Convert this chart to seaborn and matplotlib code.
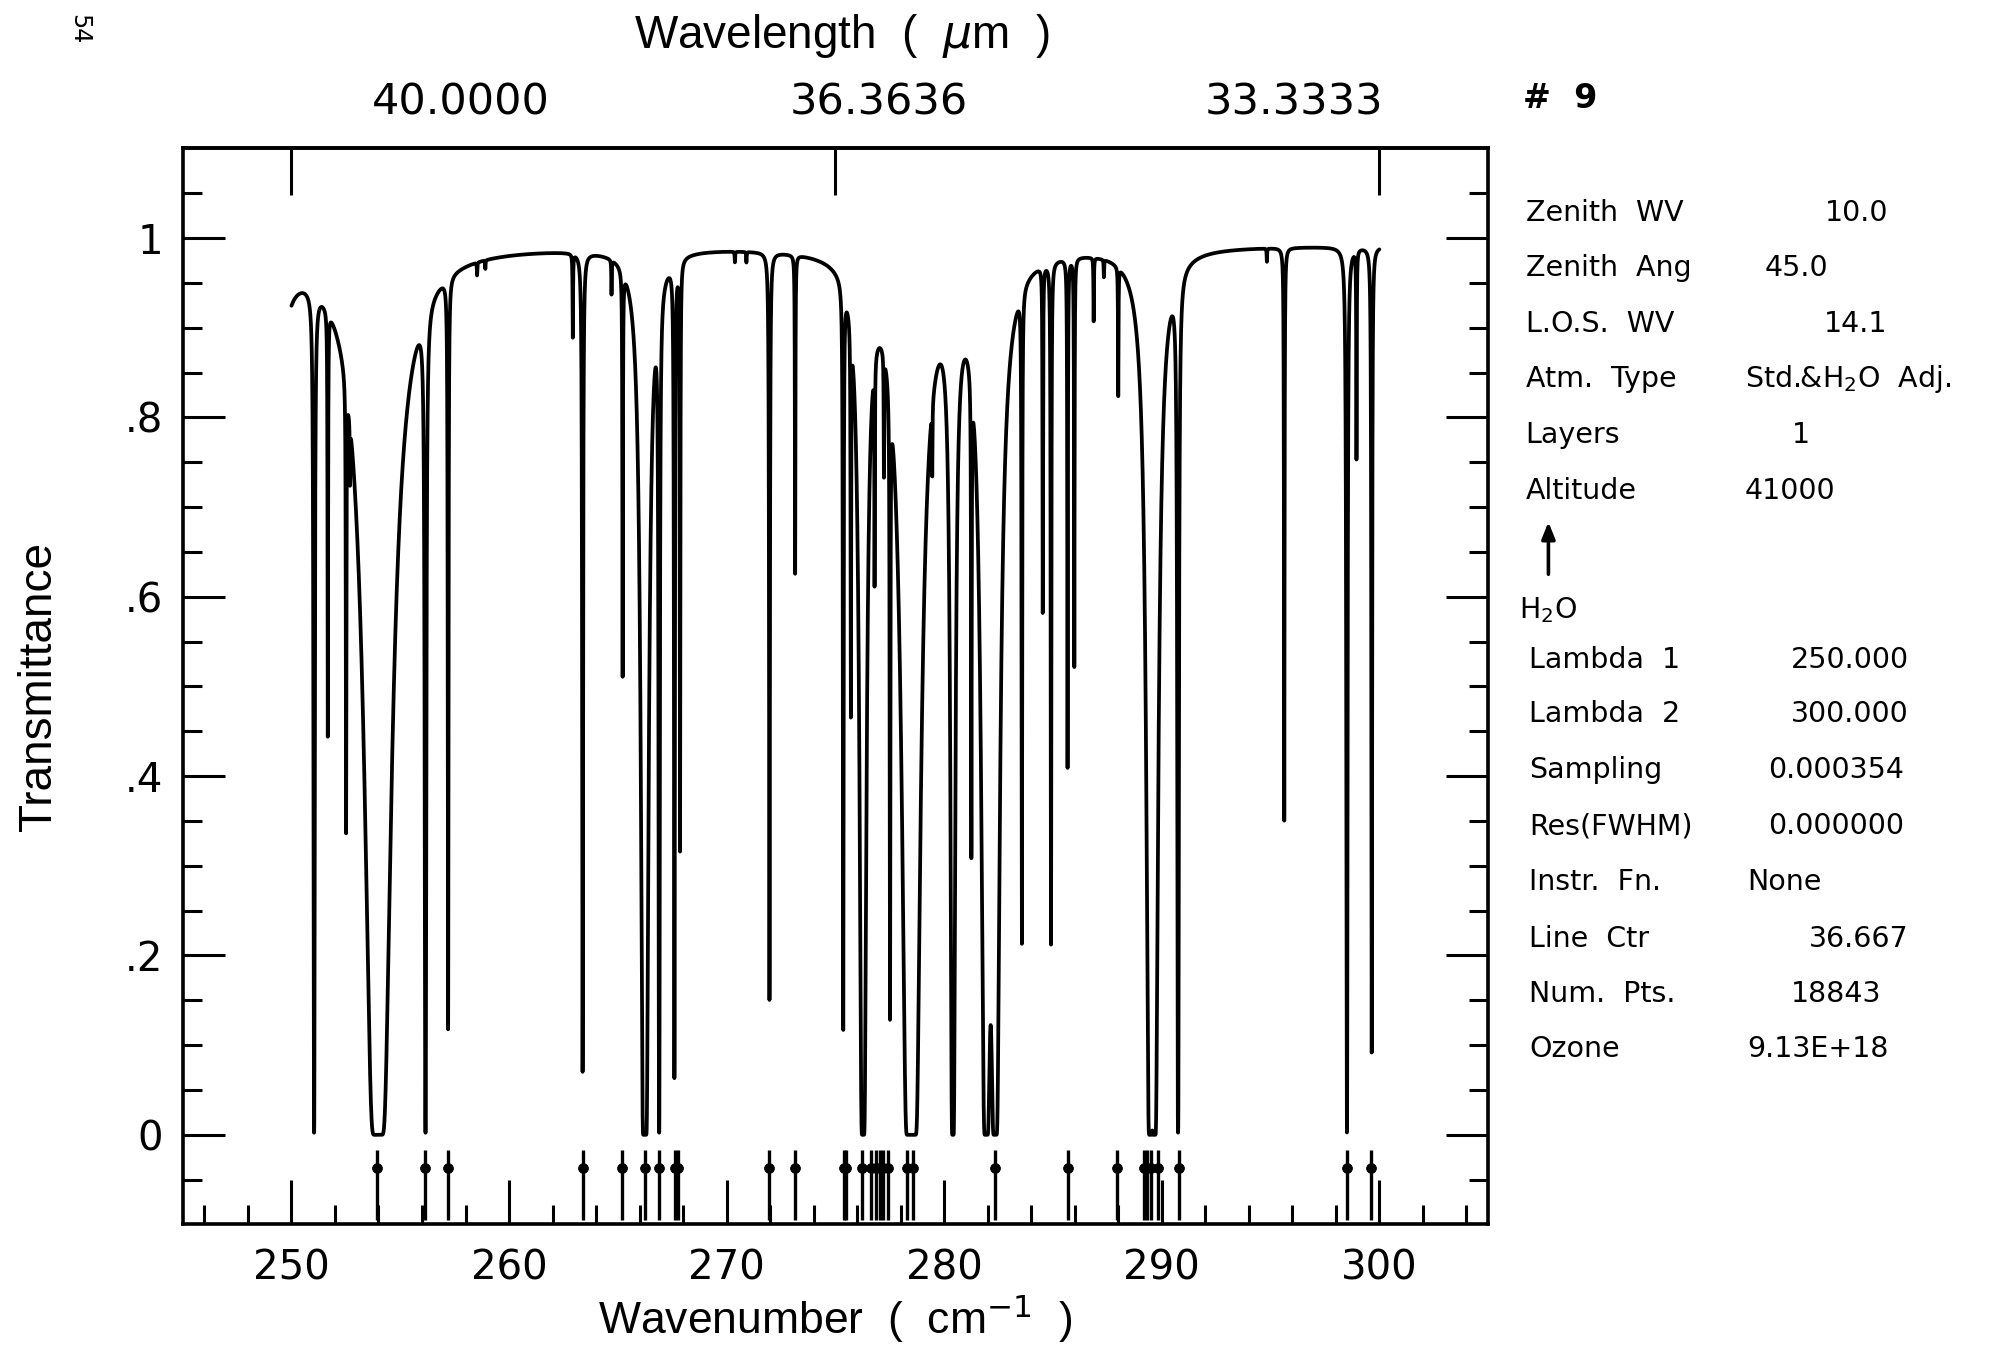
import numpy as np
import pandas as pd
import matplotlib
matplotlib.use('Agg')
import matplotlib.pyplot as plt
import seaborn as sns

# ------------------------------------------------------------
# H2O absorption lines
# centre (cm-1), peak optical depth, half width (cm-1)
# ------------------------------------------------------------
line_center = [248.90, 251.04, 251.67, 252.51, 252.69, 253.98, 256.16, 257.20,
               258.53, 258.91, 262.93, 263.38, 264.71, 265.22, 266.20, 266.27,
               266.90, 267.60, 267.86, 270.38, 270.91, 271.97, 273.15, 275.36,
               275.71, 276.27, 276.80, 277.23, 277.51, 278.38, 278.60, 279.45,
               280.40, 281.25, 281.93, 282.34, 283.57, 284.53, 284.91, 285.67,
               285.98, 286.87, 287.34, 288.00, 289.47, 289.66, 290.75, 294.83,
               295.63, 298.51, 298.95, 299.65]
line_tau = [140.0, 6.0, 0.73, 0.91, 0.09, 900.0, 6.0, 2.10,
            0.015, 0.010, 0.10, 2.64, 0.04, 0.64, 30.0, 37.5,
            6.0, 2.75, 1.13, 0.012, 0.012, 1.88, 0.45, 2.10,
            0.66, 60.0, 0.34, 0.17, 1.86, 190.0, 190.0, 0.10,
            30.0, 1.00, 110.0, 110.0, 1.50, 0.51, 1.54, 0.87,
            0.63, 0.075, 0.02, 0.16, 62.5, 62.5, 6.0, 0.015,
            1.04, 6.0, 0.27, 2.38]
line_hw = [0.02, 0.012, 0.012, 0.012, 0.012, 0.02, 0.015, 0.012,
           0.012, 0.012, 0.012, 0.013, 0.012, 0.012, 0.02, 0.02,
           0.012, 0.012, 0.012, 0.012, 0.012, 0.014, 0.012, 0.012,
           0.012, 0.02, 0.012, 0.012, 0.012, 0.02, 0.02, 0.012,
           0.02, 0.012, 0.02, 0.02, 0.012, 0.012, 0.012, 0.012,
           0.012, 0.012, 0.012, 0.012, 0.02, 0.02, 0.015, 0.012,
           0.012, 0.012, 0.012, 0.012]
continuum_tau = 0.008

# positions of the H2O line markers under the zero line
marker_pos = [253.93, 256.15, 257.20, 263.38, 265.18, 266.25, 266.90, 267.62,
              267.77, 271.97, 273.13, 275.41, 275.50, 276.20, 276.64, 276.88,
              277.04, 277.17, 277.42, 278.30, 278.58, 282.35, 285.70, 287.95,
              289.17, 289.33, 289.50, 289.85, 290.80, 298.50, 299.60]

# top axis: wavelength labels
wl_ticks = [250, 275, 300]
wl_labels = ['40.0000', '36.3636', '33.3333']
wl_label_x = [257.8, 277.0, 296.1]

# run parameters box
info_labels = ['Zenith  WV', 'Zenith  Ang', 'L.O.S.  WV', 'Atm.  Type', 'Layers', 'Altitude']
info_values = ['10.0', '45.0', '14.1', 'Std.&H$_2$O  Adj.', '1', '41000']
info_value_x = [0.9171, 0.8865, 0.9165, 0.8769, 0.9005, 0.8769]
run_labels = ['Lambda  1', 'Lambda  2', 'Sampling', 'Res(FWHM)', 'Instr.  Fn.',
              'Line  Ctr', 'Num.  Pts.', 'Ozone']
run_values = ['250.000', '300.000', '0.000354', '0.000000', 'None',
              '36.667', '18843', '9.13E+18']
run_value_x = [0.8999, 0.8999, 0.8884, 0.8884, 0.8782, 0.9088, 0.8999, 0.8782]

# ------------------------------------------------------------
# build the transmittance curve from the line list
# ------------------------------------------------------------
wn = np.linspace(250.0, 300.0, 18843)
tau = np.full_like(wn, continuum_tau)
for c, t0, g in zip(line_center, line_tau, line_hw):
    tau += t0 * g ** 2 / ((wn - c) ** 2 + g ** 2)
spec = pd.DataFrame({'wavenumber': wn, 'transmittance': np.exp(-tau)})

sns.set_theme(style='ticks')
plt.rcParams['font.family'] = ['DejaVu Sans']
plt.rcParams['axes.linewidth'] = 2.6
plt.rcParams['axes.edgecolor'] = 'black'
plt.rcParams['text.color'] = 'black'
plt.rcParams['axes.labelcolor'] = 'black'
plt.rcParams['xtick.color'] = 'black'
plt.rcParams['ytick.color'] = 'black'

narrow = ['Liberation Sans Narrow', 'DejaVu Sans']
lib = ['Liberation Sans', 'DejaVu Sans']

fig = plt.figure(figsize=(19.9, 13.45), dpi=100)
ax = fig.add_axes([0.0918, 0.0896, 0.656, 0.800])

sns.lineplot(data=spec, x='wavenumber', y='transmittance', ax=ax, color='black',
             lw=2.7, estimator=None, sort=False)

ax.vlines(marker_pos, -0.095, -0.017, color='black', lw=2.4)
sns.scatterplot(x=marker_pos, y=[-0.0375] * len(marker_pos), ax=ax, color='black',
                s=50, edgecolor='black', legend=False, zorder=3)

ax.set_xlim(245, 305)
ax.set_ylim(-0.1, 1.1)

ax.set_xticks(range(250, 301, 10))
ax.set_xticks([v for v in range(246, 305, 2) if v % 10], minor=True)
ax.set_xticklabels([str(v) for v in range(250, 301, 10)], family=narrow, fontsize=29)
ax.set_yticks([0, 0.2, 0.4, 0.6, 0.8, 1.0])
ax.set_yticklabels(['0', '.2', '.4', '.6', '.8', '1'], family=narrow, fontsize=29)
ax.set_yticks([round(v, 2) for v in np.arange(-0.05, 1.1, 0.05)
               if round(v * 20) % 4 != 0], minor=True)
ax.tick_params(which='both', direction='in', right=True, top=False, width=2.2, color='black')
ax.tick_params(which='major', length=30)
ax.tick_params(which='minor', length=14)
ax.tick_params(axis='x', which='major', length=32, pad=17)
ax.tick_params(axis='y', which='major', pad=14)

ax.set_xlabel('Wavenumber  (  cm$^{-1}$  )', family=lib, fontsize=32, labelpad=3)
ax.set_ylabel('Transmittance', family=lib, fontsize=33, labelpad=46)

top = ax.secondary_xaxis('top')
top.set_xticks(wl_ticks)
top.set_xticklabels([])
top.tick_params(direction='in', length=34, width=2.2)
for x, lab in zip(wl_label_x, wl_labels):
    ax.text(x, 1.043 * 1.2 - 0.1, lab, ha='center', va='center', fontsize=31)
ax.text(275.3, 1.105 * 1.2 - 0.1, 'Wavelength  (  $\\mu$m  )', ha='center', va='center',
        family=lib, fontsize=33)

# parameter box
fig.text(0.7653, 0.9264, '#  9', fontsize=24, fontweight='bold', va='center')
info_y = [0.8415, 0.8009, 0.7594, 0.7179, 0.6764, 0.6349]
for y, lab, val, vx in zip(info_y, info_labels, info_values, info_value_x):
    fig.text(0.7666, y, lab, fontsize=20.5, va='center')
    fig.text(vx, y, val, fontsize=20.5, va='center')
fig.add_artist(matplotlib.patches.FancyArrowPatch(
    (0.7781, 0.571), (0.7781, 0.614), transform=fig.transFigure,
    arrowstyle='-|>,head_length=0.5,head_width=0.2', mutation_scale=20,
    lw=2.6, color='black'))
fig.text(0.7634, 0.5462, 'H$_2$O', fontsize=20.5, va='center')
run_y = [0.5094, 0.4689, 0.4274, 0.3858, 0.3443, 0.3019, 0.2613, 0.2198]
for y, lab, val, vx in zip(run_y, run_labels, run_values, run_value_x):
    fig.text(0.7685, y, lab, fontsize=20.5, va='center')
    fig.text(vx, y, val, fontsize=20.5, va='center')

fig.text(0.040, 0.978, '54', fontsize=17, rotation=-90, ha='center', va='center')

fig.savefig('out.png', dpi=100)
